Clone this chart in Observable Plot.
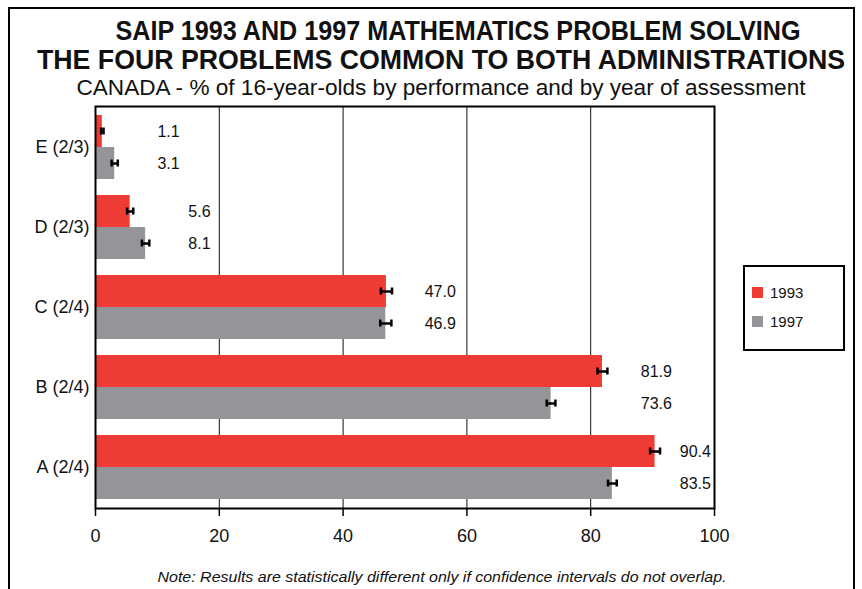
<!DOCTYPE html>
<html>
<head>
<meta charset="utf-8">
<script src="https://cdn.jsdelivr.net/npm/d3@7"></script>
<script src="https://cdn.jsdelivr.net/npm/@observablehq/plot@0.6"></script>
<style>
  html, body { margin: 0; padding: 0; background: #fff; }
  #wrap { position: relative; width: 862px; height: 589px; overflow: hidden; font-family: "Liberation Sans", Arial, Helvetica, sans-serif; }
  #border { position: absolute; left: 8px; top: 7px; width: 843px; height: 640px; border: 2px solid #000; }
  #chart { position: absolute; left: 0; top: 0; }
  #header { position: absolute; left: 0; top: 0; }
  #legend { position: absolute; left: 743px; top: 265px; width: 98px; height: 82px; border: 2px solid #000; background: #fff; }
  .sw { position: absolute; left: 7px; width: 11px; height: 11px; }
  .lt { position: absolute; left: 25px; font-size: 15px; line-height: 15px; color: #111; }
</style>
</head>
<body>
<div id="wrap">
  <div id="border"></div>
  <div id="chart"></div>
  <svg id="header" width="862" height="589"></svg>
  <div id="legend"></div>
</div>
<script>
// ---- data ----
const categories = ["E (2/3)", "D (2/3)", "C (2/4)", "B (2/4)", "A (2/4)"];
const years = ["1993", "1997"];
const values1993 = [1.1, 5.6, 47.0, 81.9, 90.4];
const values1997 = [3.1, 8.1, 46.9, 73.6, 83.5];
const ci1993 = [0.2, 0.5, 0.9, 0.8, 0.8];
const ci1997 = [0.5, 0.6, 0.9, 0.7, 0.7];
const xTicks = [0, 20, 40, 60, 80, 100];
const titleLines = [
  "SAIP 1993 AND 1997 MATHEMATICS PROBLEM SOLVING",
  "THE FOUR PROBLEMS COMMON TO BOTH ADMINISTRATIONS"
];
const subtitle = "CANADA - % of 16-year-olds by performance and by year of assessment";
const note = "Note: Results are statistically different only if confidence intervals do not overlap.";

const colors = {"1993": "#ee3b34", "1997": "#939598"};
const font = "'Liberation Sans', Arial, Helvetica, sans-serif";

const rows = categories.flatMap((c, i) => [
  {cat: c, year: "1993", value: values1993[i], ci: ci1993[i], labelX: Math.min(Math.max(values1993[i], values1997[i]) + 8.7, 96.9)},
  {cat: c, year: "1997", value: values1997[i], ci: ci1997[i], labelX: Math.min(Math.max(values1993[i], values1997[i]) + 8.7, 96.9)}
]);
const r93 = rows.filter(d => d.year === "1993");
const r97 = rows.filter(d => d.year === "1997");

const half = 32;
const capTop93 = 12.5, capBot93 = 44.5;

const chart = Plot.plot({
  width: 862,
  height: 589,
  marginLeft: 95,
  marginRight: 148,
  marginTop: 106,
  marginBottom: 81,
  style: {fontFamily: font, fontSize: "18px", color: "#000", background: "transparent"},
  x: {domain: [0, 100]},
  y: {domain: categories, paddingInner: 0.2, paddingOuter: 0.11},
  marks: [
    Plot.gridX(xTicks.filter(t => t > 0 && t < 100), {stroke: "#111", strokeOpacity: 1, strokeWidth: 1}),
    Plot.barX(r93, {x: "value", y: "cat", fill: colors["1993"], insetBottom: half}),
    Plot.barX(r97, {x: "value", y: "cat", fill: colors["1997"], insetTop: half}),
    Plot.ruleY(r93, {y: "cat", x1: d => d.value - d.ci, x2: d => d.value + d.ci, dy: -16, stroke: "#000", strokeWidth: 2.5}),
    Plot.ruleY(r97, {y: "cat", x1: d => d.value - d.ci, x2: d => d.value + d.ci, dy: 16, stroke: "#000", strokeWidth: 2.5}),
    Plot.tickX(r93, {x: d => d.value - d.ci, y: "cat", insetTop: capTop93, insetBottom: capBot93, stroke: "#000", strokeWidth: 2.5}),
    Plot.tickX(r93, {x: d => d.value + d.ci, y: "cat", insetTop: capTop93, insetBottom: capBot93, stroke: "#000", strokeWidth: 2.5}),
    Plot.tickX(r97, {x: d => d.value - d.ci, y: "cat", insetTop: capBot93, insetBottom: capTop93, stroke: "#000", strokeWidth: 2.5}),
    Plot.tickX(r97, {x: d => d.value + d.ci, y: "cat", insetTop: capBot93, insetBottom: capTop93, stroke: "#000", strokeWidth: 2.5}),
    Plot.text(r93, {x: "labelX", y: "cat", dy: -16, text: d => d.value.toFixed(1), fontSize: 16, fill: "#111", textAnchor: "middle"}),
    Plot.text(r97, {x: "labelX", y: "cat", dy: 16, text: d => d.value.toFixed(1), fontSize: 16, fill: "#111", textAnchor: "middle"}),
    Plot.frame({stroke: "#000", strokeWidth: 2}),
    Plot.axisX(xTicks, {tickSize: 8, tickPadding: 13, strokeWidth: 1.5, label: null, fontSize: 18, fill: "#111"}),
    Plot.axisY({tickSize: 0, tickPadding: 6, label: null, fontSize: 18, fill: "#111"})
  ]
});
document.getElementById("chart").appendChild(chart);

// ---- header / note ----
const hdr = d3.select("#header");
const tl = [
  {text: titleLines[0], cx: 458, y: 40, len: 685, size: 22, vs: 28 / 22, weight: "bold", style: "normal"},
  {text: titleLines[1], cx: 441, y: 69, len: 808, size: 22, vs: 28 / 22, weight: "bold", style: "normal"},
  {text: subtitle, cx: 441, y: 95, len: 729, size: 22, vs: 1, weight: "normal", style: "normal"},
  {text: note, cx: 442, y: 582, len: 569, size: 14, vs: 1, weight: "normal", style: "italic"}
];
tl.forEach(t => {
  hdr.append("text")
    .attr("transform", `translate(${t.cx - t.len / 2},${t.y}) scale(1,${t.vs})`)
    .attr("x", 0)
    .attr("y", 0)
    .attr("textLength", t.len)
    .attr("lengthAdjust", "spacingAndGlyphs")
    .attr("font-family", font)
    .attr("font-size", t.size)
    .attr("font-weight", t.weight)
    .attr("font-style", t.style)
    .attr("fill", "#111")
    .text(t.text);
});

// ---- legend ----
const leg = d3.select("#legend");
years.forEach((y, i) => {
  leg.append("div").attr("class", "sw").style("top", (20 + i * 29) + "px").style("background", colors[y]);
  leg.append("div").attr("class", "lt").style("top", (18 + i * 29) + "px").text(y);
});
</script>
</body>
</html>
